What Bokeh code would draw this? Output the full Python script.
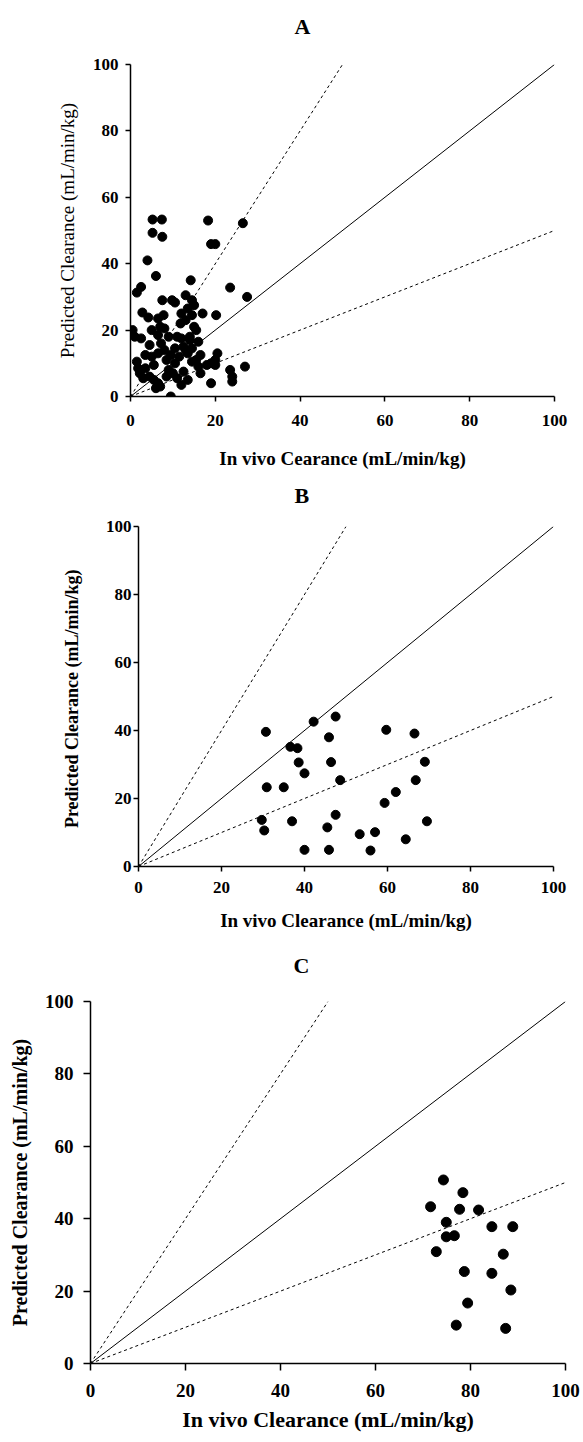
from bokeh.plotting import figure
from bokeh.models import Range1d, FixedTicker, Title, ColumnDataSource
from bokeh.embed import file_html
from bokeh.resources import INLINE

# ---------------- data ----------------
ticks = [0, 20, 40, 60, 80, 100]

unity_x = [0, 100]
unity_y = [0, 100]
twofold_x = [0, 50]
twofold_y = [0, 100]
half_x = [0, 100]
half_y = [0, 50]

a_invivo = [5.2, 7.4, 18.3, 26.5, 5.2, 7.5, 19.0, 20.0, 4.0, 6.0, 14.2, 2.5, 1.5,
            23.5, 27.5, 7.5, 9.8, 10.5, 13.0, 14.5, 15.0, 13.5, 2.8, 4.2, 6.5, 7.8,
            12.0, 13.0, 14.5, 17.0, 20.2, 11.8, 15.0, 0.5, 1.0, 2.5, 5.0, 6.5, 8.0,
            9.0, 7.2, 15.5, 14.0, 16.0, 12.5, 13.5, 4.5, 3.5, 5.0, 6.5, 8.0, 9.5,
            1.5, 1.8, 2.2, 3.0, 4.5, 5.5, 6.5, 7.0, 8.5, 9.0, 10.0, 11.0, 12.0,
            12.5, 10.5, 11.5, 14.5, 15.5, 16.0, 16.5, 18.0, 19.0, 19.0, 20.0, 20.5,
            20.0, 23.5, 24.0, 24.0, 27.0, 9.5, 13.0, 14.0, 11.0,
            3.5, 5.5, 8.5, 10.5, 12.0, 14.5, 16.5, 6.0, 13.5, 7.0]
a_pred = [53.3, 53.3, 53.0, 52.2, 49.3, 48.1, 45.9, 45.9, 41.0, 36.3, 35.0, 33.0, 31.3,
          32.8, 30.0, 29.0, 29.0, 28.3, 30.5, 29.0, 27.5, 26.5, 25.3, 23.8, 23.5, 24.5,
          25.0, 23.0, 24.5, 25.0, 24.5, 22.0, 21.0, 20.0, 18.0, 17.5, 20.0, 18.5, 20.5,
          18.0, 16.0, 20.0, 17.0, 16.5, 15.0, 13.0, 15.5, 12.5, 12.0, 13.0, 14.0, 12.5,
          10.5, 8.5, 7.0, 5.5, 6.0, 5.0, 4.0, 3.0, 6.0, 8.0, 7.0, 5.5, 3.5,
          7.5, 10.0, 12.0, 10.5, 11.0, 9.0, 7.0, 9.5, 10.0, 4.0, 11.0, 13.0,
          9.5, 8.0, 6.0, 4.5, 9.0, 0.0, 14.0, 18.0, 18.0,
          8.5, 9.5, 11.0, 14.5, 17.5, 14.5, 12.5, 2.5, 5.0, 21.0]

b_invivo = [30.7, 30.9, 35.0, 29.7, 30.3, 37.0, 36.6, 38.3, 38.6, 40.0, 42.2, 47.5,
            45.9, 46.4, 48.6, 47.5, 45.5, 40.0, 45.9, 53.3, 57.0, 55.9, 59.3, 62.0,
            59.7, 66.5, 66.8, 69.0, 69.5, 64.4]
b_pred = [39.6, 23.3, 23.3, 13.7, 10.6, 13.3, 35.2, 34.8, 30.6, 27.4, 42.6, 44.1,
          38.0, 30.7, 25.4, 15.2, 11.5, 4.9, 4.9, 9.5, 10.1, 4.7, 18.7, 21.9,
          40.2, 39.1, 25.4, 30.8, 13.3, 8.0]

c_invivo = [74.3, 78.4, 71.6, 77.7, 81.7, 74.9, 84.5, 88.9, 74.9, 76.6, 72.8, 86.9,
            78.7, 84.5, 88.5, 79.4, 77.0, 87.4]
c_pred = [50.7, 47.2, 43.3, 42.6, 42.4, 39.0, 37.8, 37.8, 35.0, 35.3, 30.9, 30.2,
          25.4, 24.9, 20.3, 16.7, 10.6, 9.7]

SERIF = "Liberation Serif"


def make_panel(letter, letter_offset, spacer, xs, ys, xlabel, ylabel,
               width, height, borders, tick_font, xtitle_font, ytitle_font,
               ylabel_style, tick_len, x_tick_standoff, x_label_standoff,
               y_tick_standoff, y_label_standoff, marker_size, letter_font):
    bl, br, bt, bb = borders
    p = figure(width=width, height=height, output_backend="svg", toolbar_location=None,
               x_range=Range1d(0, 100), y_range=Range1d(0, 100),
               min_border_left=bl, min_border_right=br,
               min_border_top=bt, min_border_bottom=bb)
    p.title = Title(text=letter, align="left", offset=letter_offset,
                    standoff=0, text_font=SERIF,
                    text_font_style="bold", text_font_size=letter_font,
                    text_color="black")
    # thin invisible gap between the panel letter and the plotting area
    p.add_layout(Title(text=" ", text_font_size="2px", standoff=spacer), "above")
    p.outline_line_color = None
    p.xgrid.grid_line_color = None
    p.ygrid.grid_line_color = None
    p.background_fill_color = "white"
    p.border_fill_color = "white"

    for ax in (p.xaxis[0], p.yaxis[0]):
        ax.ticker = FixedTicker(ticks=ticks)
        ax.axis_line_color = "black"
        ax.axis_line_width = 1.5
        ax.major_tick_line_color = "black"
        ax.major_tick_line_width = 1.5
        ax.major_tick_in = 0
        ax.major_tick_out = tick_len
        ax.minor_tick_line_color = None
        ax.major_label_text_font = SERIF
        ax.major_label_text_font_style = "bold"
        ax.major_label_text_font_size = tick_font
        ax.major_label_text_color = "black"
        ax.axis_label_text_font = SERIF
        ax.axis_label_text_color = "black"

    p.xaxis[0].axis_label = xlabel
    p.xaxis[0].axis_label_text_font_style = "bold"
    p.xaxis[0].axis_label_text_font_size = xtitle_font
    p.xaxis[0].major_label_standoff = x_tick_standoff
    p.xaxis[0].axis_label_standoff = x_label_standoff
    p.yaxis[0].axis_label = ylabel
    p.yaxis[0].axis_label_text_font_style = ylabel_style
    p.yaxis[0].axis_label_text_font_size = ytitle_font
    p.yaxis[0].major_label_standoff = y_tick_standoff
    p.yaxis[0].axis_label_standoff = y_label_standoff

    p.line(unity_x, unity_y, line_color="black", line_width=1)
    p.line(twofold_x, twofold_y, line_color="black", line_width=1, line_dash="3 3")
    p.line(half_x, half_y, line_color="black", line_width=1, line_dash="3 3")

    src = ColumnDataSource(dict(x=xs, y=ys))
    p.scatter("x", "y", source=src, size=marker_size, marker="circle",
              fill_color="black", line_color="black")
    return p


pA = make_panel("A", 164, 22, a_invivo, a_pred,
                "In vivo Cearance (mL/min/kg)", "Predicted Clearance (mL/min/kg)",
                583, 480, (130, 29, 64, 84), "17px", "19px", "19px", "normal", 5,
                13, 19, 7, 12, 9, "22px")

pB = make_panel("B", 156, 15, b_invivo, b_pred,
                "In vivo Clearance (mL/min/kg)", "Predicted  Clearance (mL/min/kg)",
                583, 464, (138, 30, 45, 78), "17px", "19px", "18px", "bold", 5,
                10, 14, 2, 21, 9, "22px")

pC = make_panel("C", 203, 20, c_invivo, c_pred,
                "In vivo Clearance (mL/min/kg)", "Predicted Clearance (mL/min/kg)",
                583, 496, (90, 18, 57, 77), "19px", "22px", "20px", "bold", 7,
                13, 7, 10, 11, 10, "22px")

open("out.html", "w").write(file_html([pA, pB, pC], INLINE))
